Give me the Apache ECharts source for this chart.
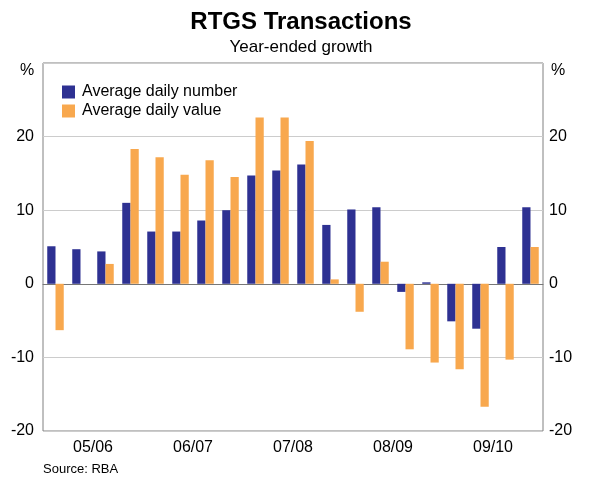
<!DOCTYPE html>
<html>
<head>
<meta charset="utf-8">
<script src="https://cdn.jsdelivr.net/npm/echarts@6/dist/echarts.min.js"></script>
<style>
  html, body { margin: 0; padding: 0; background: #fff; }
  #showChart { width: 600px; height: 483px; }
</style>
</head>
<body>
<div id="showChart"></div>
<script>
// quarters, Sep-05 to Jun-10
var quarters = ['Sep-05', 'Dec-05', 'Mar-06', 'Jun-06', 'Sep-06', 'Dec-06', 'Mar-07', 'Jun-07',
    'Sep-07', 'Dec-07', 'Mar-08', 'Jun-08', 'Sep-08', 'Dec-08', 'Mar-09', 'Jun-09',
    'Sep-09', 'Dec-09', 'Mar-10', 'Jun-10'];
var years = ['05/06', '06/07', '07/08', '08/09', '09/10'];
var dailyNumber = [5.1, 4.7, 4.4, 11.0, 7.1, 7.1, 8.6, 10.0, 14.7, 15.4, 16.2, 8.0, 10.1, 10.4, -1.1, 0.2, -5.1, -6.1, 5.0, 10.4];
var dailyValue = [-6.3, 0, 2.7, 18.3, 17.2, 14.8, 16.8, 14.5, 22.6, 22.6, 19.4, 0.6, -3.8, 3.0, -8.9, -10.7, -11.6, -16.7, -10.3, 5.0];
var yTicks = [-20, -10, 0, 10, 20];

var font = 'Liberation Sans, Arial, sans-serif';

function yLabel(v) {
    return yTicks.indexOf(v) >= 0 ? String(v) : '';
}

var option = {
    animation: false,
    textStyle: { fontFamily: font },
    title: {
        text: 'RTGS Transactions',
        subtext: 'Year-ended growth',
        left: 296,
        textAlign: 'center',
        top: 5,
        itemGap: 5,
        textStyle: { fontFamily: font, fontSize: 24, fontWeight: 'bold', color: '#000' },
        subtextStyle: { fontFamily: font, fontSize: 17, color: '#000' }
    },
    legend: {
        orient: 'vertical',
        left: 57,
        top: 79,
        itemWidth: 13,
        itemHeight: 13,
        itemGap: 3,
        icon: 'rect',
        textStyle: { fontFamily: font, fontSize: 16, color: '#000', padding: [0, 0, 0, 2], lineHeight: 16 },
        data: ['Average daily number', 'Average daily value']
    },
    grid: {
        left: 43,
        right: 57,
        top: 63,
        bottom: 52,
        show: true,
        borderColor: '#808080',
        borderWidth: 1
    },
    xAxis: [{
        type: 'category',
        data: quarters,
        axisLine: { onZero: true, lineStyle: { color: '#777', width: 1 } },
        axisTick: { show: false },
        axisLabel: { show: false },
        splitLine: { show: false }
    }, {
        type: 'category',
        data: years,
        position: 'bottom',
        axisLine: { onZero: false, show: false },
        axisTick: { inside: true, length: 7, lineStyle: { color: '#666' } },
        axisLabel: { fontFamily: font, fontSize: 16, color: '#000', margin: 9 },
        splitLine: { show: false }
    }],
    yAxis: [{
        type: 'value',
        min: -20,
        max: 30,
        interval: 10,
        axisLine: { show: false },
        axisTick: { show: false },
        axisLabel: { fontFamily: font, fontSize: 16, color: '#000', margin: 9, formatter: yLabel },
        splitLine: { lineStyle: { color: '#cccccc', width: 1 } }
    }, {
        type: 'value',
        min: -20,
        max: 30,
        interval: 10,
        position: 'right',
        axisLine: { show: false },
        axisTick: { show: false },
        axisLabel: { fontFamily: font, fontSize: 16, color: '#000', margin: 6, formatter: yLabel },
        splitLine: { show: false }
    }],
    graphic: [
        { type: 'text', left: 20, top: 63, style: { text: '%', fontFamily: font, fontSize: 16, fill: '#000' } },
        { type: 'text', left: 551, top: 63, style: { text: '%', fontFamily: font, fontSize: 16, fill: '#000' } },
        { type: 'text', left: 43, top: 463, style: { text: 'Source: RBA', fontFamily: font, fontSize: 13, fill: '#000' } }
    ],
    series: [{
        name: 'Average daily number',
        type: 'bar',
        xAxisIndex: 0,
        yAxisIndex: 0,
        barGap: '0%',
        barCategoryGap: '34%',
        itemStyle: { color: '#2E3192' },
        data: dailyNumber
    }, {
        name: 'Average daily value',
        type: 'bar',
        xAxisIndex: 0,
        yAxisIndex: 0,
        barGap: '0%',
        barCategoryGap: '34%',
        itemStyle: { color: '#F8A84E' },
        data: dailyValue
    }]
};

var chartOutChar = echarts.init(document.getElementById('showChart'));
chartOutChar.setOption(option);
</script>
</body>
</html>
